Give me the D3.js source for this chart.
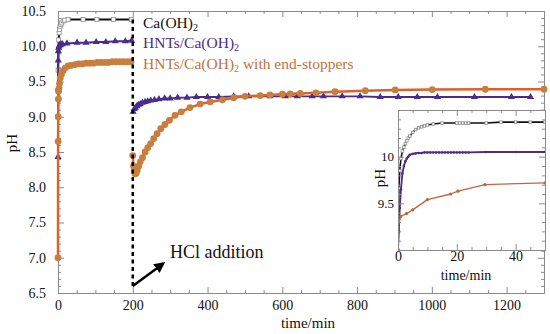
<!DOCTYPE html>
<html><head><meta charset="utf-8">
<script src="https://cdn.jsdelivr.net/npm/d3@7"></script>
<style>
html,body{margin:0;padding:0;background:#fff;}
text{font-family:"Liberation Serif","Times New Roman",serif;}
</style></head>
<body><svg id="c" width="550" height="334"></svg>
<script>
// ---------- data ----------
const xTicksMain = [0,200,400,600,800,1000,1200];
const yTicksMain = [6.5,7.0,7.5,8.0,8.5,9.0,9.5,10.0,10.5];
const xTicksInset = [0,20,40];
const yTicksInset = [9.5,10];

const caMain = [[0,9.0],[0.3,9.66],[1,9.95],[1.8,10.09],[3,10.19],[4,10.24],[5.5,10.28],[7.5,10.31],[10,10.33],[14,10.36],[18,10.37],[27,10.38],[67,10.38],[104,10.38],[148,10.38],[196,10.38]];
const hntPre = [[0,8.43],[0.3,9.4],[0.6,9.8],[1,9.93],[2,9.98],[3,10.0],[5,10.02],[8,10.03],[12,10.03],[24,10.04],[51,10.05],[75,10.05],[102,10.06],[128,10.06],[153,10.07],[180,10.07],[197,10.08]];
const hntPost = [[201,9.07],[204,9.11],[207,9.13],[211,9.15],[215,9.17],[220,9.18],[226,9.2],[233,9.21],[240,9.22],[248,9.23],[258,9.24],[270,9.25],[285,9.26],[300,9.26],[320,9.27],[345,9.27],[370,9.28],[400,9.28],[430,9.28],[470,9.29],[510,9.29],[567,9.29],[608,9.29],[640,9.29],[680,9.29],[710,9.29],[760,9.29],[808,9.29],[862,9.28],[910,9.28],[961,9.28],[1015,9.28],[1114,9.28],[1213,9.28],[1264,9.28]];
const endPre = [[0,7.0],[0.3,8.65],[0.6,9.0],[1,9.25],[1.5,9.36],[2.5,9.4],[4,9.47],[6,9.55],[9,9.6],[13,9.65],[19,9.69],[27,9.72],[35,9.73],[45,9.74],[55,9.75],[65,9.75],[75,9.76],[85,9.76],[95,9.76],[105,9.77],[115,9.77],[125,9.77],[135,9.77],[145,9.78],[155,9.78],[165,9.78],[175,9.78],[185,9.78],[195,9.78]];
const endPost = [[200,8.45],[202,8.3],[204,8.22],[206,8.19],[209,8.2],[212,8.24],[216,8.3],[220,8.36],[226,8.42],[233,8.5],[240,8.56],[248,8.62],[256,8.69],[265,8.76],[275,8.83],[286,8.89],[298,8.95],[313,9.02],[330,9.07],[353,9.13],[380,9.18],[407,9.21],[440,9.24],[470,9.27],[500,9.29],[541,9.3],[567,9.31],[600,9.32],[621,9.325],[648,9.33],[690,9.34],[741,9.355],[822,9.37],[902,9.38],[1001,9.385],[1143,9.39],[1300,9.39]];

const caInset = [[0,9.0],[0.3,9.66],[0.6,9.85],[1,9.98],[1.5,10.06],[2,10.1],[2.5,10.14],[3,10.17],[3.5,10.2],[4,10.22],[5,10.26],[6,10.29],[7,10.31],[8,10.32],[9,10.33],[10,10.34],[12,10.35],[15,10.36],[20,10.36],[21,10.36],[22,10.36],[23,10.36],[24,10.36],[30,10.36],[35,10.37],[40,10.37],[45,10.37],[50,10.37]];
const hntInset = [[0,9.0],[0.3,9.2],[0.6,9.45],[1,9.65],[1.5,9.82],[2,9.9],[2.5,9.95],[3,9.98],[3.5,10.0],[4,10.02],[5,10.03],[6,10.035],[7,10.04],[8,10.04],[9,10.045],[10,10.045],[11,10.045],[12,10.045],[13,10.045],[14,10.045],[15,10.045],[16,10.045],[17,10.045],[18,10.045],[19,10.045],[20,10.045],[21,10.045],[22,10.045],[23,10.045],[24,10.045],[30,10.05],[40,10.05],[50,10.05]];
const endInset = [[0,9.25],[0.9,9.36],[2.9,9.39],[5,9.43],[10,9.54],[17.9,9.6],[20.4,9.63],[29.6,9.7],[50,9.72]];

const legendLabels = [["Ca(OH)","2",""],["HNTs/Ca(OH)","2",""],["HNTs/Ca(OH)","2"," with end-stoppers"]];

// ---------- styles ----------
const C_BLACK="#111", C_PURPLE="#4a2c8c", C_ORANGE_LINE="#e0602a", C_ORANGE_MK="#c67f3c", C_AXIS="#8a8a8a";
const SERIF='"Liberation Serif","Times New Roman",serif';

const svg = d3.select("#c");
const x = d3.scaleLinear().domain([0,1300]).range([58,544]);
const y = d3.scaleLinear().domain([6.5,10.5]).range([293,11]);

function frame(g, xs, ys, xt, yt, xminor, yminor, fsx, fsy, xpad, ypad, xfmt, yfmt){
  const [x0,x1]=xs.range(), [y0,y1]=ys.range();
  g.append("g").attr("class","xl").attr("transform",`translate(0,${y0})`)
    .call(d3.axisBottom(xs).tickValues(xt).tickSize(-6).tickSizeOuter(0).tickPadding(xpad).tickFormat(xfmt));
  g.append("g").attr("transform",`translate(0,${y1})`)
    .call(d3.axisTop(xs).tickValues(xt).tickSize(-6).tickSizeOuter(0).tickFormat(""));
  g.append("g").attr("class","yl").attr("transform",`translate(${x0},0)`)
    .call(d3.axisLeft(ys).tickValues(yt).tickSize(-6).tickSizeOuter(0).tickPadding(ypad).tickFormat(yfmt));
  g.append("g").attr("transform",`translate(${x1},0)`)
    .call(d3.axisRight(ys).tickValues(yt).tickSize(-6).tickSizeOuter(0).tickFormat(""));
  g.append("g").attr("transform",`translate(0,${y0})`).call(d3.axisBottom(xs).tickValues(xminor).tickSize(-3).tickSizeOuter(0).tickFormat(""));
  g.append("g").attr("transform",`translate(0,${y1})`).call(d3.axisTop(xs).tickValues(xminor).tickSize(-3).tickSizeOuter(0).tickFormat(""));
  g.append("g").attr("transform",`translate(${x0},0)`).call(d3.axisLeft(ys).tickValues(yminor).tickSize(-3).tickSizeOuter(0).tickFormat(""));
  g.append("g").attr("transform",`translate(${x1},0)`).call(d3.axisRight(ys).tickValues(yminor).tickSize(-3).tickSizeOuter(0).tickFormat(""));
  g.selectAll(".domain").attr("stroke",C_AXIS);
  g.selectAll(".tick line").attr("stroke",C_AXIS);
  g.selectAll(".tick text").attr("fill","#111").attr("font-family",SERIF).style("font-family",SERIF);
  g.selectAll(".xl .tick text").style("font-size",fsx+"px");
  g.selectAll(".yl .tick text").style("font-size",fsy+"px");
}

const minorX = d3.range(0,1301,50).filter(v=>v%200!==0);
const minorY = d3.range(65,106,1).map(v=>v/10).filter(v=>Math.round(v*10)%5!==0);

const gm = svg.append("g");
frame(gm, x, y, xTicksMain, yTicksMain, minorX, minorY, 14, 14, 7, 12, d3.format("d"), d3.format(".1f"));

const line = (xs,ys)=>d3.line().x(d=>xs(d[0])).y(d=>ys(d[1]));

function drawSeries(g, data, xs, ys, color, width){
  g.append("path").datum(data).attr("d",line(xs,ys)).attr("fill","none").attr("stroke",color).attr("stroke-width",width).attr("stroke-linejoin","round");
}
function squares(g,data,xs,ys,s){
  g.selectAll(null).data(data).join("rect").attr("x",d=>xs(d[0])-s/2).attr("y",d=>ys(d[1])-s/2).attr("width",s).attr("height",s)
   .attr("fill","#fff").attr("stroke","#8c8c8c").attr("stroke-width",0.8);
}
function triangles(g,data,xs,ys,s,color){
  const sym=d3.symbol().type(d3.symbolTriangle).size(s);
  g.selectAll(null).data(data).join("path").attr("d",sym).attr("transform",d=>`translate(${xs(d[0])},${ys(d[1])})`).attr("fill",color);
}
function dots(g,data,xs,ys,r,color){
  g.selectAll(null).data(data).join("circle").attr("cx",d=>xs(d[0])).attr("cy",d=>ys(d[1])).attr("r",r).attr("fill",color);
}

drawSeries(gm, caMain, x, y, C_BLACK, 2);
squares(gm, caMain, x, y, 4);
drawSeries(gm, hntPre, x, y, C_PURPLE, 2);
drawSeries(gm, hntPost, x, y, C_PURPLE, 1.8);
triangles(gm, hntPre, x, y, 22, C_PURPLE);
triangles(gm, hntPost, x, y, 22, C_PURPLE);
drawSeries(gm, endPre, x, y, C_ORANGE_LINE, 2.5);
drawSeries(gm, endPost, x, y, C_ORANGE_LINE, 2.5);
dots(gm, endPre, x, y, 3.4, C_ORANGE_MK);
dots(gm, endPost, x, y, 3.4, C_ORANGE_MK);

// dashed HCl line
gm.append("line").attr("x1",x(200)).attr("x2",x(200)).attr("y1",y(6.6)).attr("y2",y(10.42))
  .attr("stroke","#000").attr("stroke-width",2.5).attr("stroke-dasharray","4,3.5");

// arrow
svg.append("defs").append("marker").attr("id","ah").attr("viewBox","0 0 10 10").attr("refX",8).attr("refY",5)
  .attr("markerWidth",4.4).attr("markerHeight",4.4).attr("orient","auto")
  .append("path").attr("d","M0,0L10,5L0,10Z").attr("fill","#000");
gm.append("line").attr("x1",x(200)).attr("y1",y(6.6)).attr("x2",x(282)).attr("y2",y(6.92))
  .attr("stroke","#000").attr("stroke-width",2.5).attr("marker-end","url(#ah)");
gm.append("text").attr("x",170).attr("y",258).style("font-size","18px").attr("fill","#111").text("HCl addition");

// legend
const legColors=[C_BLACK,C_PURPLE,"#c4703a"];
const legY=[28,48,69];
legendLabels.forEach((l,i)=>{
  const t=gm.append("text").attr("x",143).attr("y",legY[i]).style("font-size","15.5px").attr("fill",legColors[i]);
  t.append("tspan").text(l[0]);
  t.append("tspan").attr("dy",3).style("font-size","10px").text(l[1]);
  t.append("tspan").attr("dy",-3).text(l[2]);
});

// axis titles
svg.append("text").attr("x",308).attr("y",328).attr("text-anchor","middle").style("font-size","15px").attr("fill","#111").text("time/min");
svg.append("text").attr("transform","translate(17,143) rotate(-90)").attr("text-anchor","middle").style("font-size","15px").attr("fill","#111").text("pH");

// ---------- inset ----------
const xi = d3.scaleLinear().domain([0,50]).range([398,545]);
const yi = d3.scaleLinear().domain([9.0,10.5]).range([250,110]);
const gi = svg.append("g");
gi.append("rect").attr("x",398).attr("y",110).attr("width",147).attr("height",140).attr("fill","#fff");
svg.append("clipPath").attr("id","ic").append("rect").attr("x",398).attr("y",110).attr("width",147).attr("height",140);
const gd = gi.append("g").attr("clip-path","url(#ic)");
drawSeries(gd, caInset, xi, yi, C_BLACK, 1.6);
squares(gd, caInset, xi, yi, 2.6);
drawSeries(gd, hntInset, xi, yi, C_PURPLE, 1.8);
dots(gd, hntInset, xi, yi, 1.3, C_PURPLE);
drawSeries(gd, endInset, xi, yi, "#c8643a", 1.3);
dots(gd, endInset, xi, yi, 1.6, "#b8653a");
const minorXi = d3.range(0,51,5).filter(v=>v%20!==0);
const minorYi = d3.range(90,106,1).map(v=>v/10).filter(v=>Math.round(v*10)%5!==0);
frame(gi, xi, yi, xTicksInset, yTicksInset, minorXi, minorYi, 14, 13, 1, 4, d3.format("d"), d3.format(""));
gi.append("text").attr("x",466).attr("y",280).attr("text-anchor","middle").style("font-size","14px").attr("fill","#111").text("time/min");
gi.append("text").attr("transform","translate(385,178) rotate(-90)").attr("text-anchor","middle").style("font-size","15px").attr("fill","#111").text("pH");
</script></body></html>
